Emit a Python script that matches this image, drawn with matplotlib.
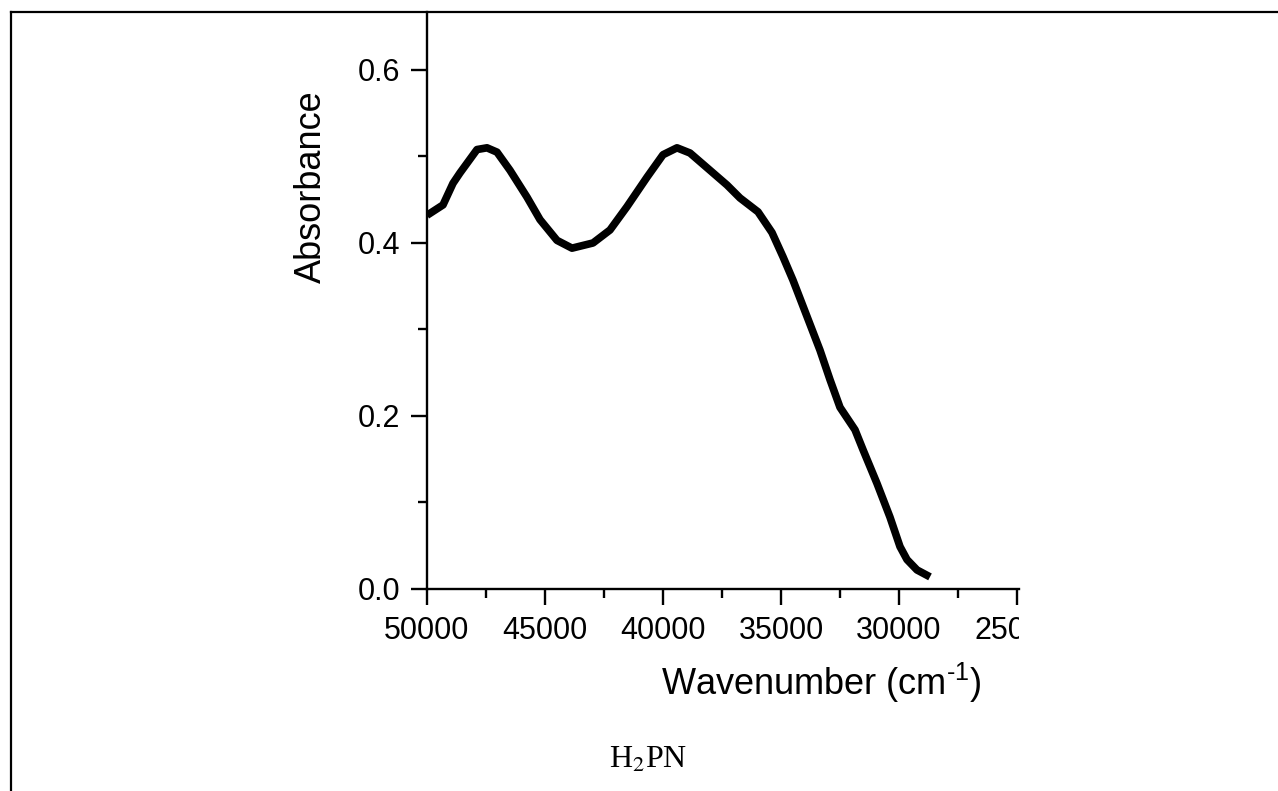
import matplotlib
matplotlib.use("Agg")
import matplotlib.pyplot as plt
from matplotlib.lines import Line2D
from matplotlib.ticker import MultipleLocator
from matplotlib.transforms import Bbox

plt.rcParams['font.family'] = ['Liberation Sans', 'DejaVu Sans']
plt.rcParams['mathtext.fontset'] = 'custom'
plt.rcParams['mathtext.rm'] = 'Liberation Sans'
plt.rcParams['mathtext.it'] = 'Liberation Sans'

# spectrum (wavenumber in cm-1, absorbance)
wavenumber = [50000, 49322, 48898, 48602, 47881, 47458, 47034, 46483, 45763,
              45212, 44492, 43856, 42966, 42246, 41525, 40678, 40000, 39407,
              38856, 38008, 37288, 36737, 35975, 35381, 34915, 34492, 33898,
              33347, 32924, 32500, 31864, 31525, 30932, 30381, 29958, 29661,
              29237, 28686]
absorbance = [0.432, 0.444, 0.469, 0.481, 0.508, 0.510, 0.505, 0.484, 0.453,
              0.427, 0.403, 0.394, 0.400, 0.415, 0.442, 0.476, 0.502, 0.510,
              0.504, 0.484, 0.467, 0.452, 0.436, 0.412, 0.384, 0.357, 0.315,
              0.276, 0.242, 0.210, 0.184, 0.161, 0.122, 0.083, 0.049, 0.034,
              0.022, 0.014]

x_ticks = [50000, 45000, 40000, 35000, 30000, 25000]
y_ticks = [0.0, 0.2, 0.4, 0.6]

W, H = 1278, 791
fig = plt.figure(figsize=(W / 100, H / 100), dpi=100)

# axes placed in pixels: left 427, right 1019, top 12, bottom 589
ax = fig.add_axes([427 / W, (H - 589) / H, 592 / W, 577 / H])
ax.plot(wavenumber, absorbance, color='black', lw=5.5,
        solid_joinstyle='round', solid_capstyle='butt')

ax.set_xlim(50000, 24915)
ax.set_ylim(0, 0.667)
ax.set_xticks(x_ticks)
ax.set_xticklabels([str(v) for v in x_ticks])
ax.set_yticks(y_ticks)
ax.set_yticklabels(['%.1f' % v for v in y_ticks])
ax.xaxis.set_minor_locator(MultipleLocator(2500))
ax.yaxis.set_minor_locator(MultipleLocator(0.1))

for s in ['top', 'right']:
    ax.spines[s].set_visible(False)
for s in ['left', 'bottom']:
    ax.spines[s].set_linewidth(1.7)

ax.tick_params(which='major', direction='out', length=11.5, width=1.7,
               labelsize=22, pad=8)
ax.tick_params(which='minor', direction='out', length=6.5, width=1.7)

ax.set_xlabel('Wavenumber (cm$^{\u2010 1}$)', fontsize=26, va='center')
ax.xaxis.set_label_coords((821 - 427) / 592, (589 - 683) / 577)
ax.set_ylabel('Absorbance', fontsize=26, va='center')
ax.yaxis.set_label_coords((311 - 427) / 592, (589 - 187) / 577)

fig.text(648 / W, (H - 760) / H, 'H$_2$PN', fontsize=23,
         family='Liberation Serif', math_fontfamily='stix',
         ha='center', va='center')

# frame of the document cell (top and left edges)
fig.add_artist(Line2D([11 / W, 1], [(H - 12) / H, (H - 12) / H],
                      color='black', lw=1.6, transform=fig.transFigure))
fig.add_artist(Line2D([11 / W, 11 / W], [0, (H - 12) / H],
                      color='black', lw=1.6, transform=fig.transFigure))

# the chart is cut off on the right, just past the last tick
fig.canvas.draw()
clip = Bbox([[0, 0], [1019, H]])
for lbl in ax.get_xticklabels():
    lbl.set_clip_box(clip)
    lbl.set_clip_on(True)

fig.savefig('out.png', dpi=100)
